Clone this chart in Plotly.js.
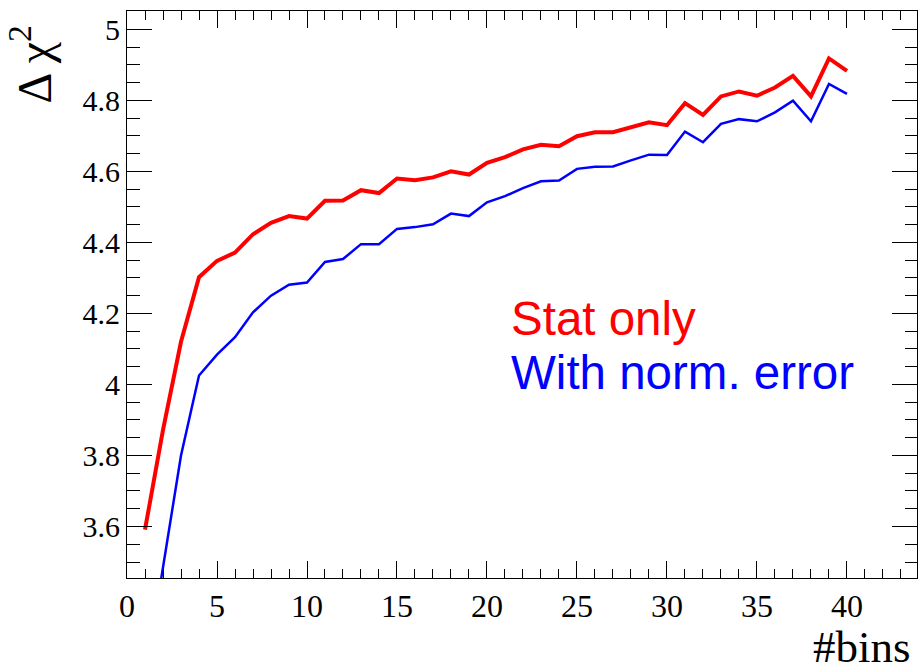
<!DOCTYPE html>
<html>
<head>
<meta charset="utf-8">
<script src="https://cdn.plot.ly/plotly-3.0.1.min.js"></script>
<style>
html,body{margin:0;padding:0;background:#fff;}
#chart{width:918px;height:668px;}
</style>
</head>
<body>
<div id="chart"></div>
<script>
// Data
var bins = [1,2,3,4,5,6,7,8,9,10,11,12,13,14,15,16,17,18,19,20,
            21,22,23,24,25,26,27,28,29,30,31,32,33,34,35,36,37,38,39,40];
var statOnly = [3.591,3.872,4.120,4.302,4.348,4.371,4.423,4.455,4.474,4.467,
                4.517,4.518,4.547,4.539,4.580,4.575,4.583,4.600,4.591,4.624,
                4.640,4.662,4.675,4.671,4.699,4.710,4.710,4.724,4.738,4.730,
                4.792,4.759,4.811,4.825,4.813,4.836,4.869,4.811,4.918,4.883];
var withNorm = [3.170,3.487,3.800,4.025,4.084,4.133,4.203,4.250,4.281,4.287,
                4.345,4.353,4.395,4.395,4.438,4.443,4.451,4.481,4.474,4.513,
                4.530,4.553,4.572,4.574,4.607,4.613,4.614,4.631,4.647,4.646,
                4.712,4.682,4.734,4.747,4.741,4.766,4.799,4.741,4.846,4.818];
var seriesNames = ["Stat only", "With norm. error"];
var xTitle = "#bins";
var yTitle = "Δ χ<sup>2</sup>";

var serif = "Liberation Serif, Times New Roman, serif";
var sans = "Liberation Sans, Arial, sans-serif";

var traces = [
  {x: bins, y: statOnly, mode: "lines", name: seriesNames[0],
   line: {color: "#ff0000", width: 4}},
  {x: bins, y: withNorm, mode: "lines", name: seriesNames[1],
   line: {color: "#0000ff", width: 2.5}}
];

var layout = {
  width: 918, height: 668,
  margin: {l: 127, r: 1, t: 11, b: 90, pad: 0},
  paper_bgcolor: "#fff", plot_bgcolor: "#fff",
  showlegend: false,
  xaxis: {
    range: [0, 43.89], showgrid: false, zeroline: false,
    showline: true, linecolor: "#000", linewidth: 1, mirror: "ticks",
    ticks: "inside", ticklen: 17, tickwidth: 1, tickcolor: "#000",
    tick0: 0, dtick: 5,
    tickfont: {family: serif, size: 32, color: "#000"},
    minor: {dtick: 1, ticks: "inside", ticklen: 9, tickwidth: 1, tickcolor: "#000", showgrid: false}
  },
  yaxis: {
    range: [3.455, 5.0515], showgrid: false, zeroline: false,
    showline: true, linecolor: "#000", linewidth: 1, mirror: "ticks",
    ticks: "inside", ticklen: 25, tickwidth: 1, tickcolor: "#000",
    tick0: 0, dtick: 0.2,
    tickfont: {family: serif, size: 30, color: "#000"},
    minor: {dtick: 0.05, ticks: "inside", ticklen: 12.5, tickwidth: 1, tickcolor: "#000", showgrid: false}
  },
  annotations: [
    {xref: "paper", yref: "paper", x: 0.484, y: 0.457, xanchor: "left", yanchor: "middle",
     text: seriesNames[0], showarrow: false, font: {family: sans, size: 47.5, color: "#ff0000"}},
    {xref: "paper", yref: "paper", x: 0.484, y: 0.363, xanchor: "left", yanchor: "middle",
     text: seriesNames[1], showarrow: false, font: {family: sans, size: 47.5, color: "#0000ff"}},
    {xref: "paper", yref: "paper", x: 0.995, y: -0.121, xanchor: "right", yanchor: "middle",
     height: 40, valign: "middle",
     text: xTitle, showarrow: false, font: {family: serif, size: 45, color: "#000"}},
    {xref: "paper", yref: "paper", x: -0.122, y: 0.905, xanchor: "center", yanchor: "middle",
     text: yTitle, textangle: -90, showarrow: false, font: {family: serif, size: 48, color: "#000"}}
  ]
};

Plotly.newPlot("chart", traces, layout, {displayModeBar: false, staticPlot: true});
</script>
</body>
</html>
